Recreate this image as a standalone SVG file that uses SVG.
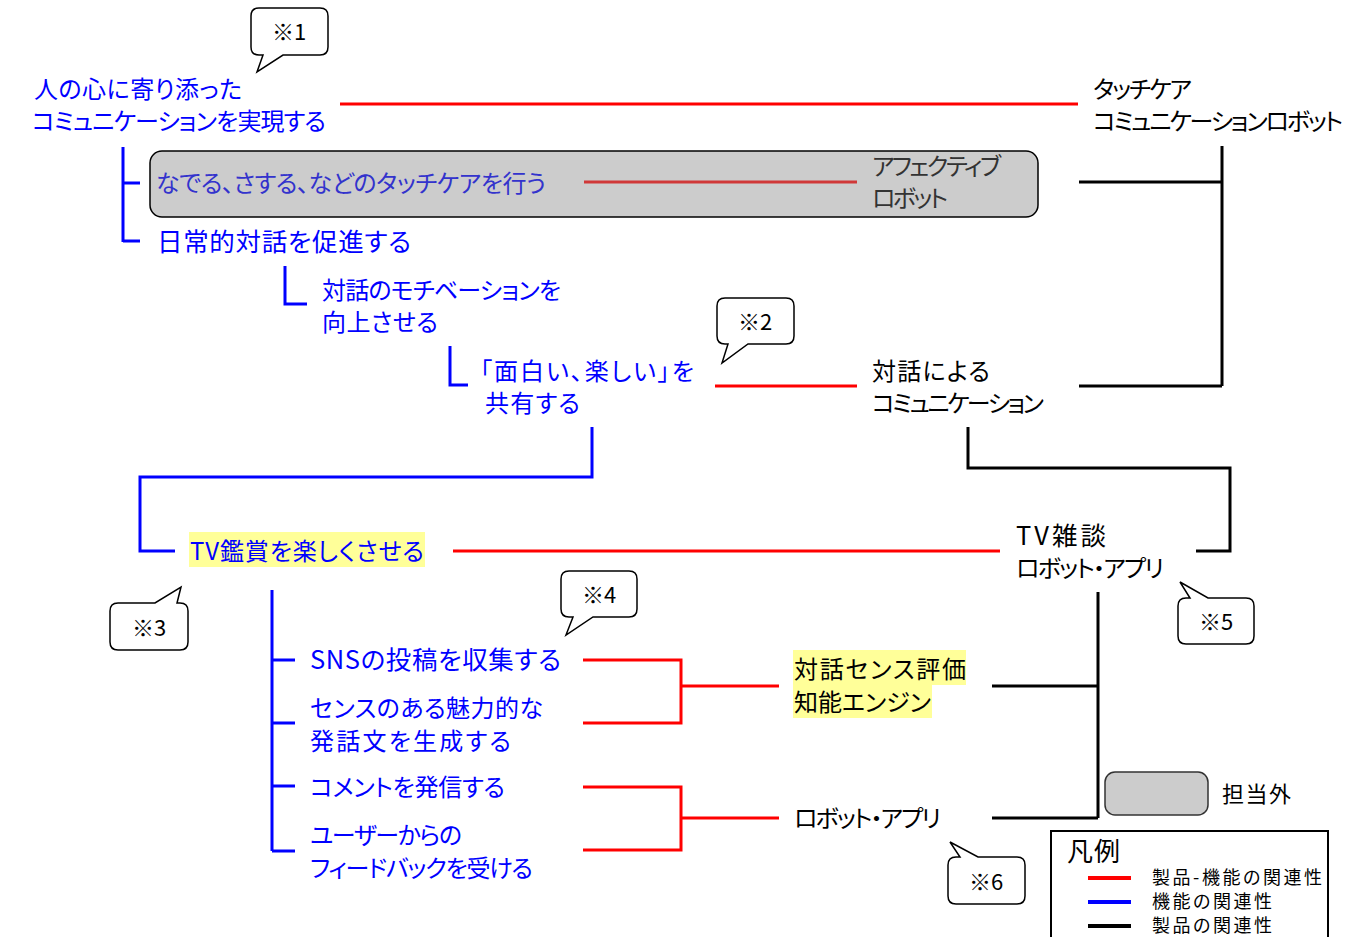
<svg xmlns="http://www.w3.org/2000/svg" width="1371" height="937" viewBox="0 0 1371 937">
<style>
text{font-family:"Noto Sans CJK JP","Noto Sans",sans-serif;font-size:24px;font-feature-settings:"palt";}
.b{fill:#0000ff;}
.k{fill:#000;}
.mb{fill:#3333cc;}
.mk{fill:#333;}
.big{font-size:25.5px;}
.co{font-size:22px;fill:#000;text-anchor:middle;}
.lg{font-size:18px;fill:#000;}
.red{stroke:#ff0000;stroke-width:3;fill:none;}
.blue{stroke:#0000ff;stroke-width:3;fill:none;}
.blk{stroke:#000;stroke-width:3;fill:none;}
.call{fill:#fff;stroke:#000;stroke-width:1.5;}
.hl{fill:#ffff99;}
</style>
<rect width="1371" height="937" fill="#fff"/>

<g id="connectors">
  <line class="red" x1="340" y1="104" x2="1078" y2="104"/>
  <path class="blue" d="M123,147 V242 M123,183 H140 M123,241 H140"/>
  <path class="blue" d="M285,266 V304 H307"/>
  <path class="blue" d="M450,346 V385 H468"/>
  <line class="red" x1="715" y1="386" x2="857" y2="386"/>
  <path class="blk" d="M1222,146 V386 M1079,182 H1222 M1079,386 H1222"/>
  <path class="blk" d="M968,427 V468 H1230 V551 H1196"/>
  <path class="blue" d="M592,427 V477 H140 V551 H175"/>
  <line class="red" x1="453" y1="551" x2="1000" y2="551"/>
  <path class="blue" d="M272,590 V851 M272,660 H295 M272,723 H295 M272,786 H295 M272,851 H295"/>
  <path class="red" d="M583,660 H681 V723 H583 M681,686 H779"/>
  <path class="red" d="M583,787 H681 V850 H583 M681,818 H779"/>
  <path class="blk" d="M1098,592 V818 M992,686 H1098 M992,818 H1098"/>
</g>

<g id="n-goal">
  <text class="b" x="34" y="98" textLength="208">人の心に寄り添った</text>
  <text class="b" x="32" y="130" textLength="294">コミュニケーションを実現する</text>
</g>
<g id="n-touchcare-robot">
  <text class="k" x="1093" y="98" textLength="99">タッチケア</text>
  <text class="k" x="1093" y="130" textLength="250">コミュニケーションロボット</text>
</g>
<g id="n-touch">
  <rect x="150" y="151" width="888" height="66" rx="12" fill="#cccccc" stroke="#000" stroke-width="1.5"/>
  <text class="mb" x="156" y="192" textLength="390">なでる、さする、などのタッチケアを行う</text>
  <line x1="584" y1="182" x2="857" y2="182" stroke="#d03838" stroke-width="3"/>
  <text class="mk" x="872" y="175" textLength="129">アフェクティブ</text>
  <text class="mk" x="872" y="207" textLength="76">ロボット</text>
</g>
<g id="n-daily">
  <text class="b big" x="157" y="251" textLength="254">日常的対話を促進する</text>
</g>
<g id="n-motivation">
  <text class="b" x="322" y="299" textLength="239">対話のモチベーションを</text>
  <text class="b" x="322" y="331" textLength="116">向上させる</text>
</g>
<g id="n-share">
  <text class="b" x="480" y="380" textLength="214">「面白い、楽しい」を</text>
  <text class="b" x="485" y="412" textLength="95">共有する</text>
</g>
<g id="n-dialog-comm">
  <text class="k" x="872" y="380" textLength="118">対話による</text>
  <text class="k" x="872" y="412" textLength="172">コミュニケーション</text>
</g>
<g id="n-tv">
  <rect class="hl" x="189" y="532" width="236" height="35"/>
  <text class="b" x="190" y="560" textLength="234">TV鑑賞を楽しくさせる</text>
</g>
<g id="n-tv-robot">
  <text class="k big" x="1016" y="545" textLength="90">TV雑談</text>
  <text class="k" x="1016" y="577" textLength="148">ロボット・アプリ</text>
</g>
<g id="n-sns">
  <text class="b big" x="310" y="669" textLength="251">SNSの投稿を収集する</text>
</g>
<g id="n-gen">
  <text class="b" x="310" y="717" textLength="233">センスのある魅力的な</text>
  <text class="b" x="310" y="750" textLength="201">発話文を生成する</text>
</g>
<g id="n-comment">
  <text class="b" x="310" y="796" textLength="195">コメントを発信する</text>
</g>
<g id="n-feedback">
  <text class="b" x="310" y="844" textLength="152">ユーザーからの</text>
  <text class="b" x="310" y="877" textLength="223">フィードバックを受ける</text>
</g>
<g id="n-engine">
  <rect class="hl" x="793" y="650" width="173" height="35"/>
  <rect class="hl" x="793" y="685" width="139" height="33"/>
  <text class="k" x="794" y="678" textLength="172">対話センス評価</text>
  <text class="k" x="794" y="711" textLength="137">知能エンジン</text>
</g>
<g id="n-robot-app">
  <text class="k" x="794" y="827" textLength="147">ロボット・アプリ</text>
</g>

<g id="c1">
  <path class="call" d="M259,8 H320 Q328,8 328,16 V47 Q328,55 320,55 H283 L257,72 L263,55 H259 Q251,55 251,47 V16 Q251,8 259,8 Z"/>
  <text class="co" x="289" y="40">※1</text>
</g>
<g id="c2">
  <path class="call" d="M725,298 H786 Q794,298 794,306 V336 Q794,344 786,344 H748 L722,363 L728,344 H725 Q717,344 717,336 V306 Q717,298 725,298 Z"/>
  <text class="co" x="755" y="330">※2</text>
</g>
<g id="c3">
  <path class="call" d="M118,603 H155 L181,587 L177,603 H180 Q188,603 188,611 V642 Q188,650 180,650 H118 Q110,650 110,642 V611 Q110,603 118,603 Z"/>
  <text class="co" x="149" y="636">※3</text>
</g>
<g id="c4">
  <path class="call" d="M569,571 H629 Q637,571 637,579 V609 Q637,617 629,617 H593 L566,635 L573,617 H569 Q561,617 561,609 V579 Q561,571 569,571 Z"/>
  <text class="co" x="599" y="603">※4</text>
</g>
<g id="c5">
  <path class="call" d="M1186,598 H1190 L1180,582 L1208,598 H1246 Q1254,598 1254,606 V636 Q1254,644 1246,644 H1186 Q1178,644 1178,636 V606 Q1178,598 1186,598 Z"/>
  <text class="co" x="1216" y="630">※5</text>
</g>
<g id="c6">
  <path class="call" d="M956,857 H960 L950,842 L978,857 H1017 Q1025,857 1025,865 V896 Q1025,904 1017,904 H956 Q948,904 948,896 V865 Q948,857 956,857 Z"/>
  <text class="co" x="986" y="890">※6</text>
</g>

<g id="legend">
  <rect x="1105" y="772" width="103" height="43" rx="10" fill="#cccccc" stroke="#333" stroke-width="1.5"/>
  <text class="k" x="1222" y="802" textLength="69" style="font-size:22px">担当外</text>
  <rect x="1051" y="831" width="277" height="120" fill="#fff" stroke="#000" stroke-width="2"/>
  <text class="k" x="1067" y="861" textLength="53" style="font-size:26px">凡例</text>
  <line x1="1088" y1="878" x2="1131" y2="878" stroke="#ff0000" stroke-width="4"/>
  <line x1="1088" y1="902" x2="1131" y2="902" stroke="#0000ff" stroke-width="4"/>
  <line x1="1088" y1="926" x2="1131" y2="926" stroke="#000" stroke-width="4"/>
  <text class="lg" x="1152" y="884" textLength="170">製品-機能の関連性</text>
  <text class="lg" x="1152" y="908" textLength="120">機能の関連性</text>
  <text class="lg" x="1152" y="932" textLength="120">製品の関連性</text>
</g>
</svg>
